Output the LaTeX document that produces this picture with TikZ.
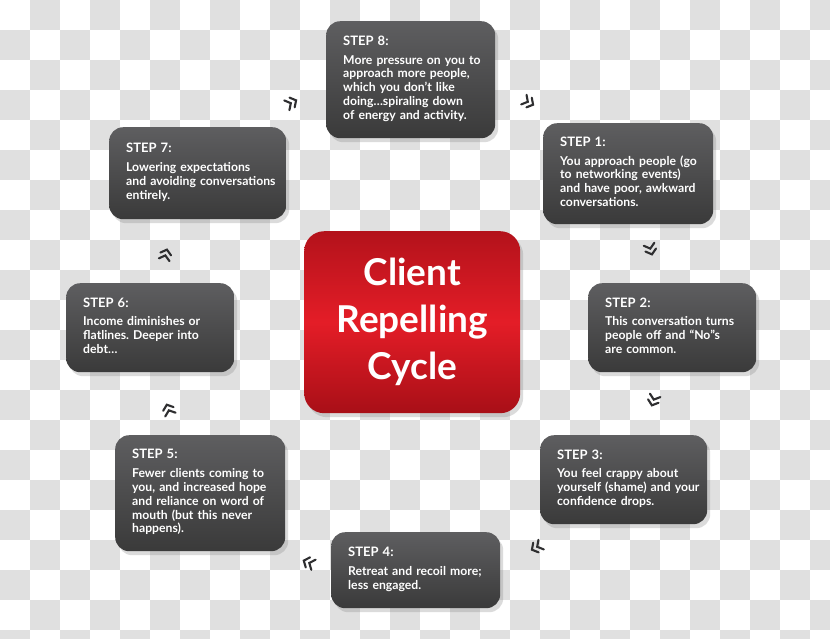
\documentclass[tikz,border=0pt]{standalone}
\usepackage{fontspec}
\setmainfont{Lato}
\usetikzlibrary{shadows}
\frenchspacing

\definecolor{boxtop}{HTML}{5E5E60}
\definecolor{boxbot}{HTML}{3A3A3A}
\definecolor{redtop}{HTML}{B3121B}
\definecolor{redmid}{HTML}{E41D27}
\definecolor{redbot}{HTML}{A80F17}
\definecolor{checker}{HTML}{E0E0E0}
\definecolor{chevcol}{HTML}{2E2E30}

% title line and body lines of a step box
\newcommand{\steptext}[2]{{\fontsize{13}{14}\selectfont #1}\\[5pt]%
  \begin{tabular}[t]{@{}l@{}}#2\end{tabular}}

\tikzset{
  stepbox/.style={rounded corners=14pt, top color=boxtop, bottom color=boxbot,
    text=white, align=left, inner xsep=17pt, inner ysep=6pt, anchor=north west,
    font=\bfseries\fontsize{12.2}{13.8}\selectfont,
    drop shadow={opacity=0.28, shadow xshift=3pt, shadow yshift=-4pt}},
  cyclebox/.style={rounded corners=20pt, top color=redtop, bottom color=redbot,
    middle color=redmid, text=white, align=center, anchor=north west,
    font=\bfseries\fontsize{37}{47}\selectfont,
    drop shadow={opacity=0.28, shadow xshift=3pt, shadow yshift=-4pt}},
  chevline/.style={draw=chevcol, line width=2.1pt, line cap=round, line join=miter},
  chev/.pic={
    \draw[chevline] (-7,-5.5) -- (-2.5,0) -- (-7,5.5);
    \draw[chevline] (-1,-5.5) -- (3.5,0) -- (-1,5.5);
  }
}

\begin{document}
\begin{tikzpicture}[x=1pt,y=-1pt]
\useasboundingbox (0,0) rectangle (830,638);
% checkered background
\begin{scope}
\clip (0,0) rectangle (830,638);
\fill[white] (0,0) rectangle (830,638);
\foreach \j in {0,2,...,20} \foreach \i in {1,3,...,27}
  \fill[checker] (\i*30,\j*30) rectangle ++(30,30);
\foreach \j in {1,3,...,21} \foreach \i in {0,2,...,26}
  \fill[checker] (\i*30,\j*30) rectangle ++(30,30);
\end{scope}

% centre
\node[cyclebox, minimum width=216pt, minimum height=182pt] (cycle) at (304,231)
  {Client\\Repelling\\Cycle};

% the eight steps
\node[stepbox, minimum width=169pt, minimum height=117pt, text width=135pt] (s8) at (326,21)
  {\steptext{STEP 8:}{More pressure on you to\\approach more people,\\which you don’t like\\doing…spiraling down\\of energy and activity.}};
\node[stepbox, minimum width=170pt, minimum height=101pt, text width=136pt] (s1) at (543,123)
  {\steptext{STEP 1:}{You approach people (go\\to networking events)\\and have poor, awkward\\conversations.}};
\node[stepbox, minimum width=168pt, minimum height=89pt, text width=134pt] (s2) at (588,283)
  {\steptext{STEP 2:}{This conversation turns\\people off and “No”s\\are common.}};
\node[stepbox, minimum width=167pt, minimum height=89pt, text width=133pt] (s3) at (540,435)
  {\steptext{STEP 3:}{You feel crappy about\\yourself (shame) and your\\confidence drops.}};
\node[stepbox, minimum width=169pt, minimum height=76pt, text width=135pt] (s4) at (331,532)
  {\steptext{STEP 4:}{Retreat and recoil more;\\less engaged.}};
\node[stepbox, minimum width=170pt, minimum height=116pt, text width=136pt] (s5) at (115,435)
  {\steptext{STEP 5:}{Fewer clients coming to\\you, and increased hope\\and reliance on word of\\mouth (but this never\\happens).}};
\node[stepbox, minimum width=168pt, minimum height=89pt, text width=134pt] (s6) at (66,283)
  {\steptext{STEP 6:}{Income diminishes or\\flatlines. Deeper into\\debt…}};
\node[stepbox, minimum width=177pt, minimum height=92pt, text width=143pt] (s7) at (109,127)
  {\steptext{STEP 7:}{Lowering expectations\\and avoiding conversations\\entirely.}};

% chevrons between the steps
\foreach \px/\py/\ang in {293/102/-118, 530/103/-61, 651/251/-16, 653/402/18,
                          535/548/61, 307/562/113, 168/408/160, 166/253/195}
  \pic[rotate={-(\ang)-90}] at (\px,\py) {chev};
\end{tikzpicture}
\end{document}
